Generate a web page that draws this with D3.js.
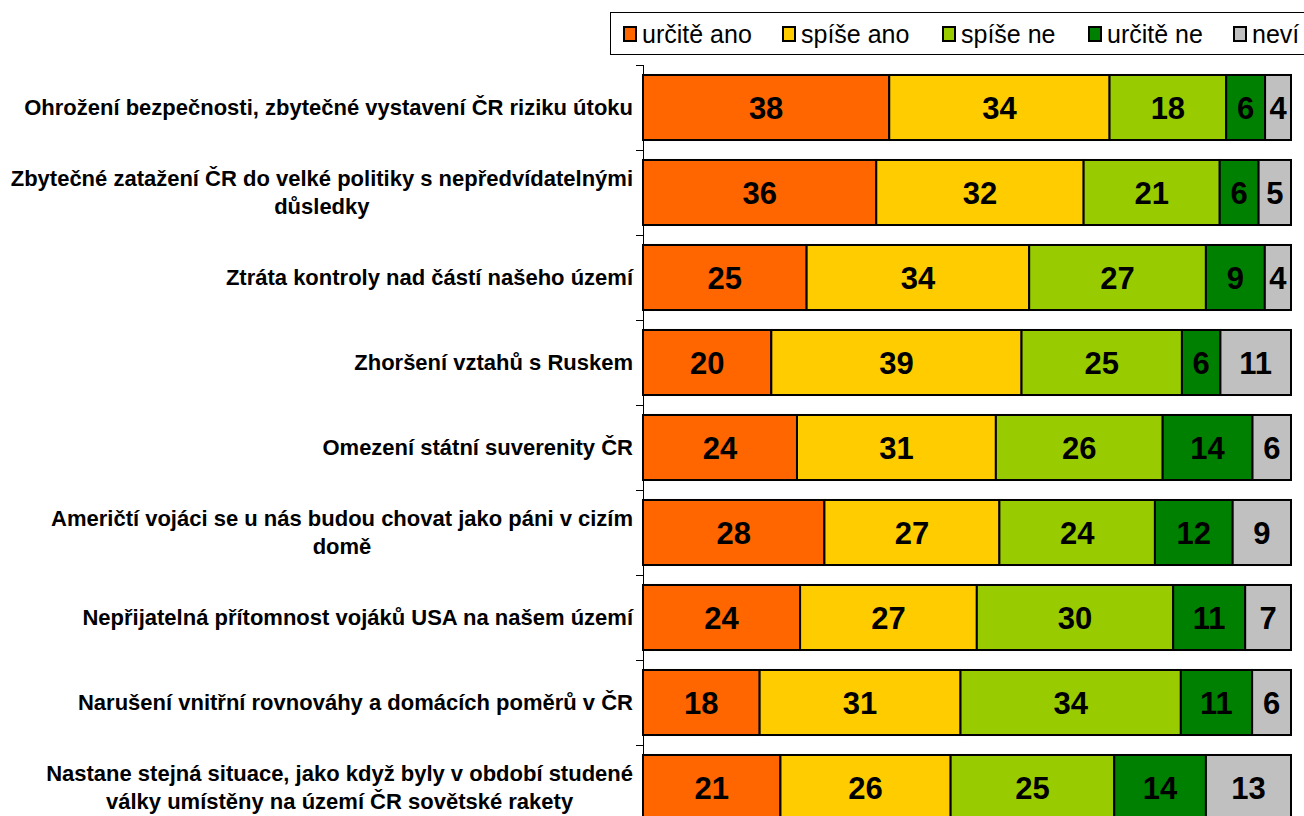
<!DOCTYPE html>
<html lang="cs">
<head>
  <meta charset="UTF-8">
  <title>D3 -- skládaný pruhový graf</title>
  <style>
    html, body { margin: 0; padding: 0; background: #fff; }
    svg { display: block; font-family: "Liberation Sans", Arial, sans-serif; }
    .axis path, .axis line { fill: none; stroke: #000; shape-rendering: crispEdges; }
    .cat { font-size: 22px; font-weight: bold; fill: #000; }
    .val { font-size: 31px; font-weight: bold; fill: #000; text-anchor: middle; }
    .leg { font-size: 25px; fill: #000; }
  </style>
</head>
<body>
<div class="bar-demo"></div>
<script src="https://d3js.org/d3.v7.min.js"></script>
<script>
  // data
  let categories = [
    'Ohrožení bezpečnosti, zbytečné vystavení ČR riziku útoku',
    'Zbytečné zatažení ČR do velké politiky s nepředvídatelnými|důsledky',
    'Ztráta kontroly nad částí našeho území',
    'Zhoršení vztahů s Ruskem',
    'Omezení státní suverenity ČR',
    'Američtí vojáci se u nás budou chovat jako páni v cizím|domě',
    'Nepřijatelná přítomnost vojáků USA na našem území',
    'Narušení vnitřní rovnováhy a domácích poměrů v ČR',
    'Nastane stejná situace, jako když byly v období studené|války umístěny na území ČR sovětské rakety'
  ]
  let seriesNames = ['určitě ano', 'spíše ano', 'spíše ne', 'určitě ne', 'neví']
  let urciteAno = [38, 36, 25, 20, 24, 28, 24, 18, 21]
  let spiseAno = [34, 32, 34, 39, 31, 27, 27, 31, 26]
  let spiseNe = [18, 21, 27, 25, 26, 24, 30, 34, 25]
  let urciteNe = [6, 6, 9, 6, 14, 12, 11, 11, 14]
  let nevi = [4, 5, 4, 11, 6, 9, 7, 6, 13]
  let colors = ['#ff6600', '#ffcc00', '#99cc00', '#008000', '#c0c0c0']

  let width = 1304
  let height = 816
  let plotL = 643
  let plotR = 1291
  let plotT = 65
  let step = 85

  let rows = categories.map((c, i) => ({
    cat: c,
    'určitě ano': urciteAno[i],
    'spíše ano': spiseAno[i],
    'spíše ne': spiseNe[i],
    'určitě ne': urciteNe[i],
    'neví': nevi[i]
  }))

  let stacked = d3.stack().keys(seriesNames).offset(d3.stackOffsetExpand)(rows)

  let svg = d3.select('.bar-demo').append('svg').attr('width', width).attr('height', height)

  let yScale = d3.scaleBand()
    .domain(categories)
    .range([plotT, plotT + step * categories.length])
    .paddingInner(0.235)
    .paddingOuter(0.1175)
  let xScale = d3.scaleLinear().domain([0, 1]).range([plotL, plotR])

  // y axis with ticks at band boundaries
  let gAxis = svg.append('g').attr('class', 'axis')
  gAxis.append('line')
    .attr('x1', plotL + 0.5).attr('x2', plotL + 0.5)
    .attr('y1', plotT).attr('y2', plotT + step * categories.length)
  gAxis.selectAll('.tick')
    .data(d3.range(categories.length + 1))
    .enter().append('line')
    .attr('x1', plotL - 7).attr('x2', plotL)
    .attr('y1', d => plotT + step * d + 0.5)
    .attr('y2', d => plotT + step * d + 0.5)

  // bars
  let layer = svg.selectAll('.layer').data(stacked).enter()
    .append('g').attr('class', 'layer')
    .attr('fill', (d, i) => colors[i])

  layer.selectAll('rect').data(d => d).enter().append('rect')
    .attr('x', d => xScale(d[0]))
    .attr('y', d => yScale(d.data.cat))
    .attr('width', d => xScale(d[1]) - xScale(d[0]))
    .attr('height', yScale.bandwidth())
    .attr('stroke', '#000')
    .attr('stroke-width', 2)

  layer.selectAll('text').data((d) => d.map(p => ({ p: p, key: d.key }))).enter().append('text')
    .attr('class', 'val')
    .attr('x', d => (xScale(d.p[0]) + xScale(d.p[1])) / 2)
    .attr('y', d => yScale(d.p.data.cat) + yScale.bandwidth() / 2)
    .attr('dy', '0.36em')
    .text(d => d.p.data[d.key])

  // category labels, multi-line centred, block right aligned
  categories.forEach((c) => {
    let lines = c.split('|')
    let cy = yScale(c) + yScale.bandwidth() / 2
    let g = svg.append('g')
    let texts = lines.map((l, j) => g.append('text')
      .attr('class', 'cat')
      .attr('text-anchor', 'middle')
      .attr('y', cy + (j - (lines.length - 1) / 2) * 28)
      .attr('dy', '0.35em')
      .text(l))
    let maxW = d3.max(texts, t => t.node().getComputedTextLength())
    let center = 633 - maxW / 2
    texts.forEach(t => t.attr('x', center))
  })

  // legend
  let legX = [623, 782, 942, 1088, 1233]
  let leg = svg.append('g')
  leg.append('rect')
    .attr('x', 610.5).attr('y', 12.5)
    .attr('width', 720).attr('height', 42)
    .attr('fill', '#fff').attr('stroke', '#000').attr('stroke-width', 1)
  seriesNames.forEach((s, i) => {
    leg.append('rect')
      .attr('x', legX[i] + 1).attr('y', 27)
      .attr('width', 12).attr('height', 14)
      .attr('fill', colors[i]).attr('stroke', '#000').attr('stroke-width', 2)
    leg.append('text')
      .attr('class', 'leg')
      .attr('x', legX[i] + 19).attr('y', 43)
      .text(s)
  })
</script>
</body>
</html>
